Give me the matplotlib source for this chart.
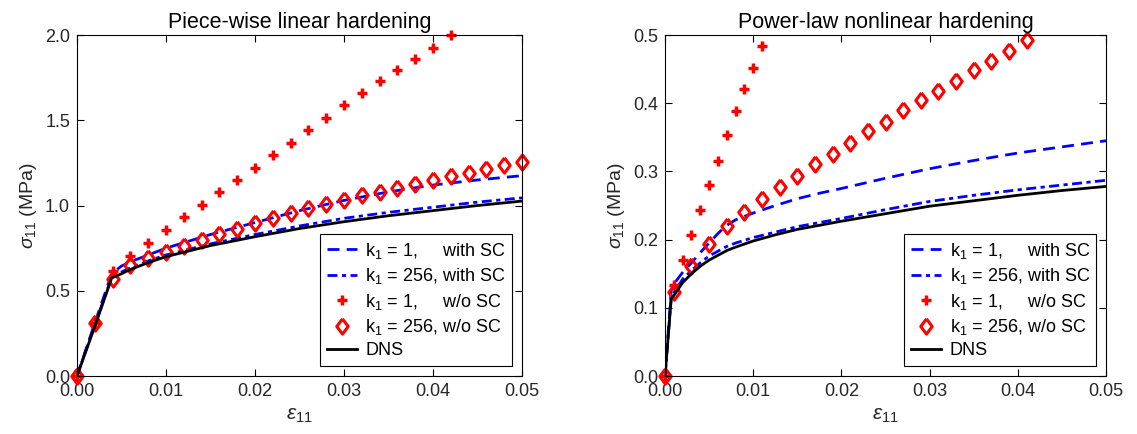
import numpy as np
import matplotlib
matplotlib.use("Agg")
import matplotlib.pyplot as plt

plt.rcParams['font.family'] = ['Liberation Sans', 'DejaVu Sans']
plt.rcParams['mathtext.fontset'] = 'custom'
plt.rcParams['mathtext.rm'] = 'Liberation Sans'
plt.rcParams['mathtext.it'] = 'Liberation Sans:italic'
plt.rcParams['mathtext.fallback'] = 'stixsans'

# ---- Piece-wise linear hardening (left) ----
lin_x_line = [0.0, 0.002, 0.0039, 0.005, 0.006, 0.008, 0.010, 0.015, 0.020, 0.025, 0.030, 0.035, 0.040, 0.045, 0.050]
lin_k1_sc = [0.0, 0.31, 0.60, 0.645, 0.67, 0.71, 0.75, 0.83, 0.90, 0.97, 1.03, 1.08, 1.12, 1.15, 1.175]
lin_k256_sc = [0.0, 0.30, 0.58, 0.61, 0.635, 0.675, 0.71, 0.775, 0.83, 0.88, 0.925, 0.96, 0.99, 1.02, 1.045]
lin_dns = [0.0, 0.29, 0.575, 0.60, 0.625, 0.665, 0.70, 0.765, 0.817, 0.865, 0.905, 0.94, 0.97, 1.0, 1.026]

lin_x_plus = [0.0, 0.002, 0.004, 0.006, 0.008, 0.010, 0.012, 0.014, 0.016, 0.018, 0.020, 0.022,
              0.024, 0.026, 0.028, 0.030, 0.032, 0.034, 0.036, 0.038, 0.040, 0.042]
lin_k1_nosc = [0.0, 0.31, 0.618, 0.704, 0.780, 0.856, 0.931, 1.001, 1.077, 1.148, 1.222, 1.294,
               1.369, 1.445, 1.515, 1.591, 1.662, 1.732, 1.797, 1.861, 1.926, 2.0]
lin_x_dia = [0.0, 0.002, 0.004, 0.006, 0.008, 0.010, 0.012, 0.014, 0.016, 0.018, 0.020, 0.022,
             0.024, 0.026, 0.028, 0.030, 0.032, 0.034, 0.036, 0.038, 0.040, 0.042, 0.044,
             0.046, 0.048, 0.050]
lin_k256_nosc = [0.0, 0.313, 0.567, 0.649, 0.690, 0.729, 0.762, 0.798, 0.833, 0.864, 0.897, 0.925,
                 0.956, 0.983, 1.009, 1.032, 1.060, 1.081, 1.101, 1.126, 1.148, 1.173, 1.191,
                 1.212, 1.237, 1.253]

# ---- Power-law nonlinear hardening (right) ----
pow_x_line = [0.0, 0.0007, 0.001, 0.002, 0.003, 0.004, 0.005, 0.006, 0.007, 0.008, 0.010, 0.0125,
              0.015, 0.0175, 0.020, 0.025, 0.030, 0.035, 0.040, 0.045, 0.050]
pow_k1_sc = [0.0, 0.125, 0.135, 0.152, 0.166, 0.181, 0.195, 0.209, 0.221, 0.229, 0.239, 0.250,
             0.260, 0.268, 0.275, 0.290, 0.304, 0.316, 0.327, 0.336, 0.345]
pow_k256_sc = [0.0, 0.115, 0.122, 0.142, 0.155, 0.166, 0.176, 0.183, 0.190, 0.195, 0.203, 0.211,
               0.219, 0.225, 0.231, 0.244, 0.256, 0.265, 0.273, 0.280, 0.287]
pow_dns = [0.0, 0.113, 0.118, 0.137, 0.150, 0.161, 0.170, 0.177, 0.184, 0.189, 0.198, 0.207,
           0.215, 0.221, 0.227, 0.238, 0.249, 0.257, 0.265, 0.272, 0.278]

pow_x_plus = [0.0, 0.001, 0.002, 0.003, 0.004, 0.005, 0.006, 0.007, 0.008, 0.009, 0.010, 0.011]
pow_k1_nosc = [0.0, 0.133, 0.170, 0.207, 0.243, 0.280, 0.316, 0.353, 0.389, 0.421, 0.452, 0.484]
pow_x_dia = [0.0, 0.001, 0.003, 0.005, 0.007, 0.009, 0.011, 0.013, 0.015, 0.017, 0.019, 0.021,
             0.023, 0.025, 0.027, 0.029, 0.031, 0.033, 0.035, 0.037, 0.039, 0.041]
pow_k256_nosc = [0.0, 0.123, 0.162, 0.194, 0.220, 0.240, 0.259, 0.277, 0.294, 0.311, 0.326, 0.342,
                 0.359, 0.373, 0.390, 0.404, 0.418, 0.433, 0.448, 0.462, 0.477, 0.492]

labels = ['k$_1$ = 1,     with SC', 'k$_1$ = 256, with SC',
          'k$_1$ = 1,     w/o SC', 'k$_1$ = 256, w/o SC', 'DNS']

# MATLAB-like diamond (a bit narrower than tall)
diamond = [(0, 1), (0.75, 0), (0, -1), (-0.75, 0), (0, 1)]

fig = plt.figure(figsize=(11.37, 4.34), dpi=100)
ax1 = fig.add_axes([0.0677, 0.1336, 0.3914, 0.7857])
ax2 = fig.add_axes([0.5849, 0.1336, 0.3879, 0.7857])


def draw(ax, xl, k1sc, k256sc, dns, xp, k1n, xd, k256n, ymax, yticks, title):
    ax.plot(xl, k1sc, color='blue', ls=(0, (4.3, 2.6)), lw=2, label=labels[0])
    ax.plot(xl, k256sc, color='blue', ls=(0, (3.6, 1.6, 1.5, 1.6)), lw=2, label=labels[1])
    ax.plot(xp, k1n, ls='none', marker='+', ms=6.5, mew=2.5, color='red', label=labels[2], clip_on=False)
    ax.plot(xd, k256n, ls='none', marker=diamond, ms=11, mew=2.2, mfc='none', mec='red',
            label=labels[3], clip_on=False)
    ax.plot(xl, dns, color='black', lw=2, label=labels[4])
    ax.set_xlim(0, 0.05)
    ax.set_ylim(0, ymax)
    ax.set_xticks([0.0, 0.01, 0.02, 0.03, 0.04, 0.05])
    ax.set_xticklabels(['0.00', '0.01', '0.02', '0.03', '0.04', '0.05'])
    ax.set_yticks(yticks)
    ax.set_yticklabels(['%.1f' % v for v in yticks])
    ax.tick_params(direction='in', top=True, right=True, labelsize=13, length=5, pad=5,
                   labelcolor='#262626')
    ax.set_title(title, fontsize=15.5, pad=5)
    ax.set_xlabel(r'$\epsilon_{11}$', fontsize=15, color='#262626')
    ax.set_ylabel(r'$\sigma_{11}$ (MPa)', fontsize=14, color='#262626')
    leg = ax.legend(loc='lower right', bbox_to_anchor=(0.978, 0.03), borderaxespad=0,
                    fontsize=13, fancybox=False, edgecolor='black', framealpha=1,
                    handlelength=1.7, labelspacing=0.3, borderpad=0.35, handletextpad=0.45)
    leg.get_frame().set_linewidth(0.8)


draw(ax1, lin_x_line, lin_k1_sc, lin_k256_sc, lin_dns, lin_x_plus, lin_k1_nosc,
     lin_x_dia, lin_k256_nosc, 2.0, [0.0, 0.5, 1.0, 1.5, 2.0], 'Piece-wise linear hardening')
draw(ax2, pow_x_line, pow_k1_sc, pow_k256_sc, pow_dns, pow_x_plus, pow_k1_nosc,
     pow_x_dia, pow_k256_nosc, 0.5, [0.0, 0.1, 0.2, 0.3, 0.4, 0.5], 'Power-law nonlinear hardening')

fig.savefig('out.png', dpi=100)
